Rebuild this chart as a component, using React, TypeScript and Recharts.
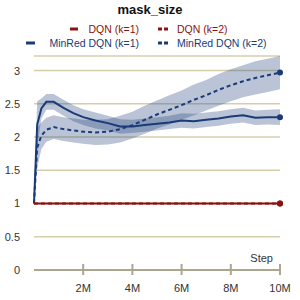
import { Area, CartesianGrid, ComposedChart, Line, XAxis, YAxis } from "recharts";

// step in millions
const steps = [0, 0.13, 0.3, 0.5, 0.8, 1.2, 1.6, 2, 2.5, 3, 3.5, 4, 4.5, 5, 5.5, 6, 6.5, 7, 7.5, 8, 8.5, 9, 9.5, 10];

const dqnK1 = steps.map(() => 1);
const dqnK2 = steps.map(() => 1);

const minredK1 = [1.0, 2.19, 2.43, 2.53, 2.53, 2.44, 2.36, 2.3, 2.25, 2.21, 2.16, 2.16, 2.18, 2.2, 2.22, 2.25, 2.24, 2.26, 2.28, 2.31, 2.33, 2.29, 2.3, 2.3];
const minredK1Spread = [0, 0.35, 0.15, 0.12, 0.12, 0.12, 0.12, 0.12, 0.12, 0.11, 0.11, 0.1, 0.1, 0.1, 0.1, 0.11, 0.11, 0.11, 0.11, 0.11, 0.11, 0.11, 0.11, 0.12];

const minredK2 = [1.0, 1.84, 2.02, 2.11, 2.15, 2.12, 2.1, 2.08, 2.07, 2.08, 2.12, 2.18, 2.26, 2.34, 2.41, 2.48, 2.56, 2.63, 2.71, 2.78, 2.84, 2.89, 2.93, 2.97];
const minredK2Spread = [0, 0.3, 0.2, 0.18, 0.18, 0.18, 0.18, 0.18, 0.19, 0.19, 0.2, 0.2, 0.21, 0.21, 0.22, 0.22, 0.23, 0.23, 0.24, 0.24, 0.24, 0.25, 0.25, 0.25];

const xTicks = [2, 4, 6, 8, 10];
const yTicks = [0, 0.5, 1, 1.5, 2, 2.5, 3];

const RED = "#8b1212";
const BLUE = "#1a3a78";
const FONT = "'Liberation Sans', Arial, sans-serif";

const data = steps.map((s, i) => ({
  step: s,
  dqnK1: dqnK1[i],
  dqnK2: dqnK2[i],
  minredK1: minredK1[i],
  minredK2: minredK2[i],
  k1Band: [minredK1[i] - minredK1Spread[i], minredK1[i] + minredK1Spread[i]],
  k2Band: [minredK2[i] - minredK2Spread[i], minredK2[i] + minredK2Spread[i]]
}));

function XTick({ x, y, payload }: any) {
  return (
    <g>
      <line x1={x} x2={x} y1={y - 6} y2={y + 5} stroke="#aaa690" strokeWidth={2} />
      <text x={x} y={y + 22} textAnchor="middle" fontSize={11} fill="#333" fontFamily={FONT}>
        {payload.value}M
      </text>
    </g>
  );
}

// only draw the end marker
const lastDot = (color: string) => (props: any) =>
  props.index === steps.length - 1 ? (
    <circle key={`d-${props.index}`} cx={props.cx} cy={props.cy} r={3} fill={color} />
  ) : (
    <g key={`d-${props.index}`} />
  );

export default function App() {
  return (
    <div style={{ position: "absolute", left: 0, top: 0, width: 300, height: 300, background: "#fff", fontFamily: FONT }}>
      <ComposedChart width={300} height={300} data={data} margin={{ top: 56, right: 20, bottom: 0, left: 0 }}>
        <CartesianGrid vertical={false} stroke="#d4cead" strokeWidth={1.5} />
        <XAxis
          dataKey="step"
          type="number"
          domain={[0, 10]}
          ticks={xTicks}
          height={30}
          axisLine={{ stroke: "#aaa690", strokeWidth: 2 }}
          tickLine={false}
          tickSize={0}
          tickMargin={0}
          tick={<XTick />}
        />
        <YAxis
          domain={[0, 3.2]}
          ticks={yTicks}
          width={34}
          axisLine={false}
          tickLine={false}
          tickSize={0}
          tickMargin={14}
          tick={{ fill: "#333", fontSize: 11, fontFamily: FONT }}
        />
        <Area dataKey="k1Band" type="linear" stroke="none" fill={BLUE} fillOpacity={0.3} isAnimationActive={false} />
        <Area dataKey="k2Band" type="linear" stroke="none" fill={BLUE} fillOpacity={0.3} isAnimationActive={false} />
        <Line dataKey="minredK1" type="linear" stroke={BLUE} strokeWidth={2} dot={lastDot(BLUE)} isAnimationActive={false} />
        <Line dataKey="minredK2" type="linear" stroke={BLUE} strokeWidth={2} strokeDasharray="4 3" dot={lastDot(BLUE)} isAnimationActive={false} />
        <Line dataKey="dqnK1" type="linear" stroke={RED} strokeWidth={2} dot={lastDot(RED)} isAnimationActive={false} />
        <Line dataKey="dqnK2" type="linear" stroke={RED} strokeWidth={2} strokeDasharray="4 3" dot={lastDot(RED)} isAnimationActive={false} />
      </ComposedChart>
      <svg width={300} height={300} style={{ position: "absolute", left: 0, top: 0, pointerEvents: "none" }}>
        <text x={150} y={14} textAnchor="middle" fontSize={13} fontWeight="bold" fill="#111" fontFamily={FONT}>
          mask_size
        </text>
        {/* legend, two columns */}
        <line x1={70} x2={78} y1={29} y2={29} stroke={RED} strokeWidth={3} />
        <text x={139} y={33} textAnchor="end" fontSize={10.5} fill={RED} fontFamily={FONT}>DQN (k=1)</text>
        <line x1={158} x2={168} y1={29} y2={29} stroke={RED} strokeWidth={3} strokeDasharray="4 2" />
        <text x={177} y={33} fontSize={10.5} fill={RED} fontFamily={FONT}>DQN (k=2)</text>
        <line x1={26} x2={35} y1={43} y2={43} stroke={BLUE} strokeWidth={3} />
        <text x={139} y={47} textAnchor="end" fontSize={10.5} fill={BLUE} fontFamily={FONT}>MinRed DQN (k=1)</text>
        <line x1={158} x2={168} y1={43} y2={43} stroke={BLUE} strokeWidth={3} strokeDasharray="4 2" />
        <text x={177} y={47} fontSize={10.5} fill={BLUE} fontFamily={FONT}>MinRed DQN (k=2)</text>
        <text x={273} y={262} textAnchor="end" fontSize={11} fill="#333" fontFamily={FONT}>Step</text>
      </svg>
    </div>
  );
}
